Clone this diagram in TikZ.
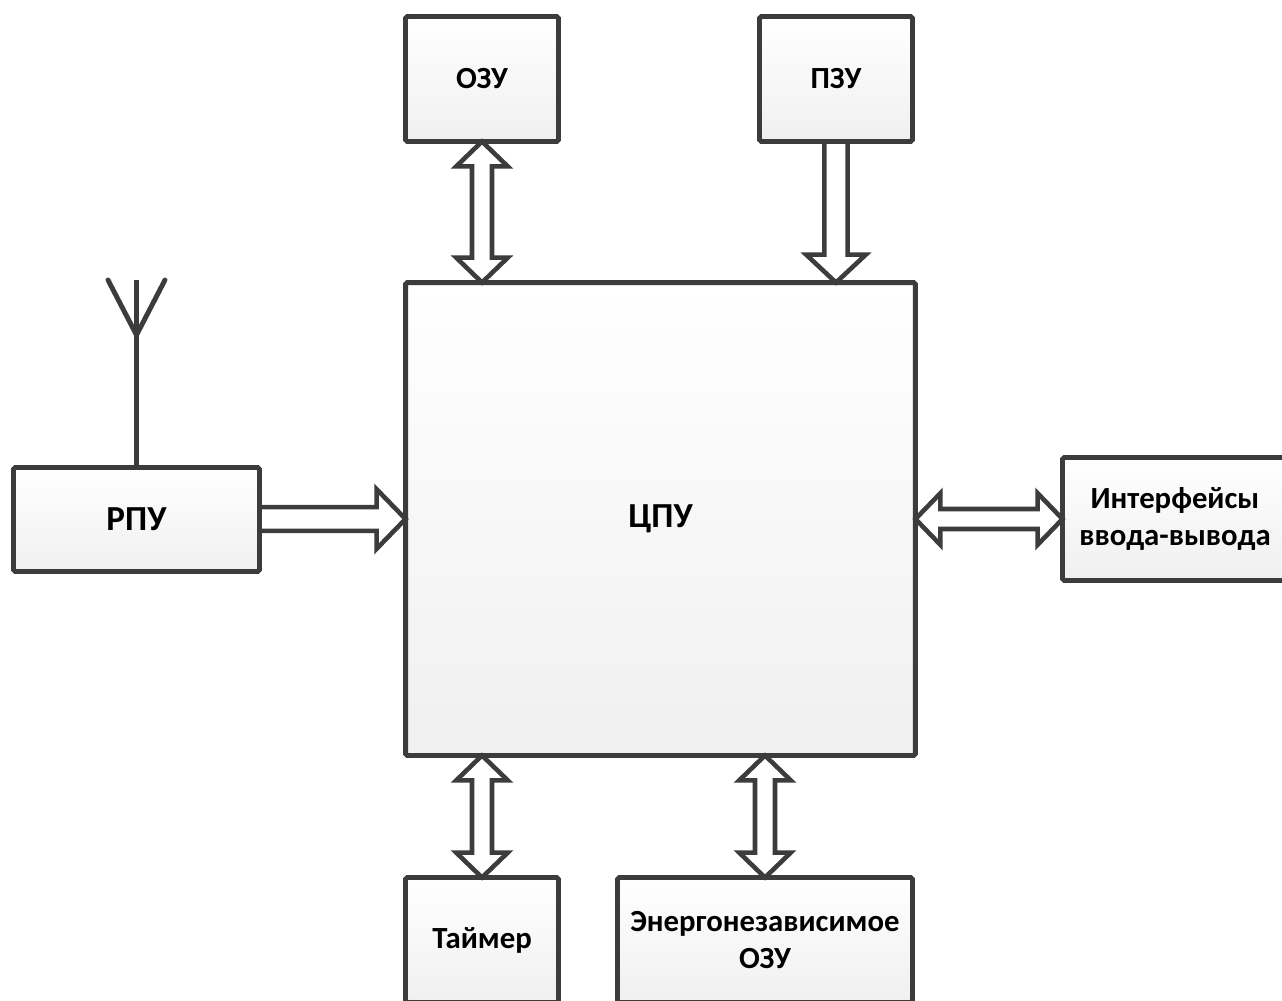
\documentclass[tikz,border=0pt]{standalone}
\usepackage{fontspec}
\setmainfont{Carlito}
\usetikzlibrary{calc}
\definecolor{edge}{HTML}{3C3C3C}
\tikzset{
  blk/.style={draw=edge, line width=2.8pt, rounded corners=1pt,
    top color=white, bottom color=black!6, middle color=black!3,
    inner sep=0pt, outer sep=0pt, align=center,
    font=\bfseries\fontsize{17.5}{21}\selectfont, text=black},
  bigtext/.style={font=\bfseries\fontsize{20}{24}\selectfont},
  fat/.style={draw=edge, line width=2.6pt, fill=white, line join=miter, miter limit=4},
  ant/.style={draw=edge, line width=2.8pt, line join=round}
}
% double vertical arrow: #1 top tip, #2 bottom tip
\newcommand\vdouble[2]{%
  \path[fat] let \p1=(#1), \p2=(#2) in
   (\x1,\y1) -- (\x1+14.7pt,\y1-14.2pt) -- (\x1+5.7pt,\y1-14.2pt)
   -- (\x1+5.7pt,\y2+14.2pt) -- (\x1+14.7pt,\y2+14.2pt) -- (\x1,\y2)
   -- (\x1-14.7pt,\y2+14.2pt) -- (\x1-5.7pt,\y2+14.2pt)
   -- (\x1-5.7pt,\y1-14.2pt) -- (\x1-14.7pt,\y1-14.2pt) -- cycle;}
% double horizontal arrow: #1 left tip, #2 right tip
\newcommand\hdouble[2]{%
  \path[fat] let \p1=(#1), \p2=(#2) in
   (\x1,\y1) -- (\x1+14.2pt,\y1+14.7pt) -- (\x1+14.2pt,\y1+5.7pt)
   -- (\x2-14.2pt,\y1+5.7pt) -- (\x2-14.2pt,\y1+14.7pt) -- (\x2,\y1)
   -- (\x2-14.2pt,\y1-14.7pt) -- (\x2-14.2pt,\y1-5.7pt)
   -- (\x1+14.2pt,\y1-5.7pt) -- (\x1+14.2pt,\y1-14.7pt) -- cycle;}
% single downward arrow: #1 tail (top), #2 tip (bottom)
\newcommand\vsingle[2]{%
  \path[fat] let \p1=(#1), \p2=(#2) in
   (\x1-6.6pt,\y1) -- (\x1+6.6pt,\y1) -- (\x1+6.6pt,\y2+15.9pt)
   -- (\x1+17pt,\y2+15.9pt) -- (\x1,\y2) -- (\x1-17pt,\y2+15.9pt)
   -- (\x1-6.6pt,\y2+15.9pt) -- cycle;}
% single rightward arrow: #1 tail (left), #2 tip (right)
\newcommand\hsingle[2]{%
  \path[fat] let \p1=(#1), \p2=(#2) in
   (\x1,\y1+6.8pt) -- (\x2-16.5pt,\y1+6.8pt) -- (\x2-16.5pt,\y1+17pt)
   -- (\x2,\y1) -- (\x2-16.5pt,\y1-17pt) -- (\x2-16.5pt,\y1-6.8pt)
   -- (\x1,\y1-6.8pt) -- cycle;}

\begin{document}
\begin{tikzpicture}[x=0.02cm,y=-0.02cm]
\useasboundingbox (0,0) rectangle (1282,1001);
\clip (0,0) rectangle (1282,1001);

\node[blk, minimum width=3.06cm, minimum height=2.5cm] (OZU) at (482,79) {ОЗУ};
\node[blk, minimum width=3.06cm, minimum height=2.5cm] (PZU) at (836,79) {ПЗУ};
\node[blk, bigtext, minimum width=10.2cm, minimum height=9.46cm] (CPU) at (660.5,519) {ЦПУ};
\node[blk, bigtext, minimum width=4.92cm, minimum height=2.08cm] (RPU) at (136.5,519.5) {РПУ};
\node[blk, minimum width=4.5cm, minimum height=2.46cm] (IO) at (1175,519) {Интерфейсы\\ввода-вывода};
\node[blk, minimum width=3.06cm, minimum height=2.5cm] (TMR) at (482,940) {Таймер};
\node[blk, minimum width=5.9cm, minimum height=2.5cm] (NV) at (765,940) {Энергонезависимое\\ОЗУ};

\vdouble{OZU.south}{OZU.south |- CPU.north}
\vsingle{PZU.south}{PZU.south |- CPU.north}
\hsingle{RPU.east |- CPU.center}{CPU.west}
\hdouble{CPU.east}{IO.west |- CPU.east}
\vdouble{TMR.north |- CPU.south}{TMR.north}
\vdouble{NV.north |- CPU.south}{NV.north}

\coordinate (antTop) at (136.5,280);
\coordinate (antJ) at (136.5,335);
\coordinate (antL) at (108,280);
\coordinate (antR) at (165,280);
\draw[ant] (RPU.north) -- (antTop);
\draw[ant, line cap=round] (antL) -- (antJ) -- (antR);
\end{tikzpicture}
\end{document}
